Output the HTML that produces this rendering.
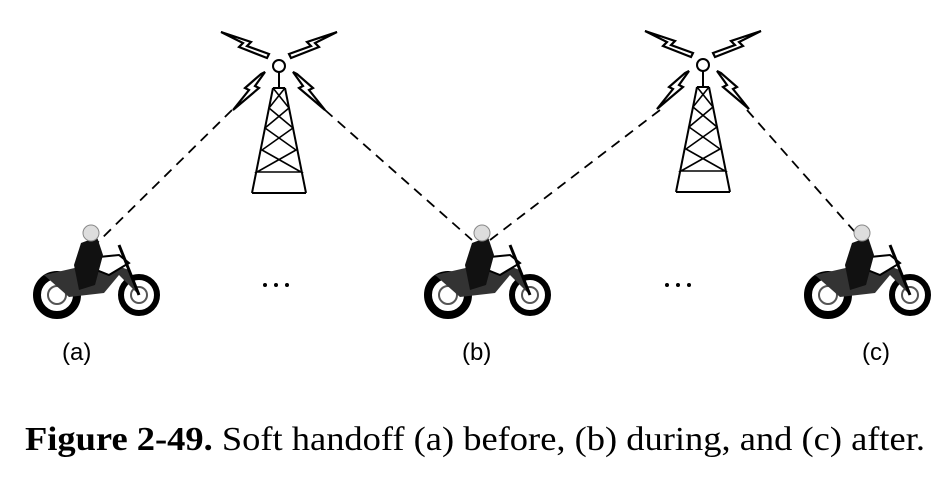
<!DOCTYPE html>
<html><head><style>body{margin:0;background:#fff}svg{display:block}</style></head><body>
<svg width="945" height="485" viewBox="0 0 945 485" xmlns="http://www.w3.org/2000/svg">
<defs>
<g id="tower" fill="none" stroke="#000" stroke-width="2">
<circle cx="0" cy="0" r="6" fill="#fff"/>
<line x1="0" y1="6" x2="0" y2="22"/>
<path d="M-6 22 L6 22 M-6 22 L-27 127 M6 22 L27 127 M-27 127 L27 127"/>
<path d="M-6 22 L10 42 L-14 62 L17 84 L-22 106 L22 106 L-17 84 L14 62 L-10 42 L6 22" stroke-width="1.6"/>
<path d="M-10 -12 L-32 -20 L-28 -24 L-58 -34 L-36 -23 L-40 -19 L-12 -8 Z" stroke-width="2.2" fill="#fff"/>
<path d="M10 -12 L32 -20 L28 -24 L58 -34 L36 -23 L40 -19 L12 -8 Z" stroke-width="2.2" fill="#fff"/>
<path d="M-14 6 L-24 20 L-20 22 L-46 44 L-30 24 L-34 22 L-18 8 Z" stroke-width="2.2" fill="#fff"/>
<path d="M14 6 L24 20 L20 22 L46 44 L30 24 L34 22 L18 8 Z" stroke-width="2.2" fill="#fff"/>
</g>
<g id="bike">
<circle cx="28" cy="50" r="20" fill="none" stroke="#000" stroke-width="8"/>
<circle cx="28" cy="50" r="9" fill="none" stroke="#555" stroke-width="2"/>
<circle cx="110" cy="50" r="18" fill="none" stroke="#000" stroke-width="6"/>
<circle cx="110" cy="50" r="8" fill="none" stroke="#555" stroke-width="2"/>
<path d="M15 30 L50 22 L80 18 L100 25 L110 50 L90 30 L75 48 L40 52 Z" fill="#333"/>
<path d="M60 22 L70 12 L90 10 L100 18 L80 30 Z" fill="#fff" stroke="#000" stroke-width="2"/>
<path d="M45 20 L52 -2 L68 -8 L74 10 L66 40 L50 45 Z" fill="#111"/>
<circle cx="62" cy="-12" r="8" fill="#ddd" stroke="#888"/>
<path d="M90 0 L110 50" stroke="#000" stroke-width="3"/>
</g>
</defs>
<g stroke="#000" stroke-width="1.8" stroke-dasharray="10,7">
<line x1="232" y1="110" x2="95" y2="245"/>
<line x1="325" y1="110" x2="472" y2="240"/>
<line x1="660" y1="110" x2="490" y2="240"/>
<line x1="747" y1="110" x2="862" y2="240"/>
</g>
<use href="#tower" x="279" y="66"/>
<use href="#tower" x="703" y="65"/>
<use href="#bike" x="29" y="245"/>
<use href="#bike" x="420" y="245"/>
<use href="#bike" x="800" y="245"/>
<g fill="#000">
<circle cx="265" cy="285" r="2"/><circle cx="276" cy="285" r="2"/><circle cx="287" cy="285" r="2"/>
<circle cx="667" cy="285" r="2"/><circle cx="678" cy="285" r="2"/><circle cx="689" cy="285" r="2"/>
</g>
<g font-family="Liberation Sans, sans-serif" font-size="24" fill="#000">
<text x="62" y="360">(a)</text>
<text x="462" y="360">(b)</text>
<text x="862" y="360">(c)</text>
</g>
<text x="25" y="450" font-family="Liberation Serif, serif" font-size="34" textLength="900" lengthAdjust="spacingAndGlyphs"><tspan font-weight="bold">Figure 2-49.</tspan>  Soft handoff (a) before, (b) during, and (c) after.</text>
</svg>
</body></html>
